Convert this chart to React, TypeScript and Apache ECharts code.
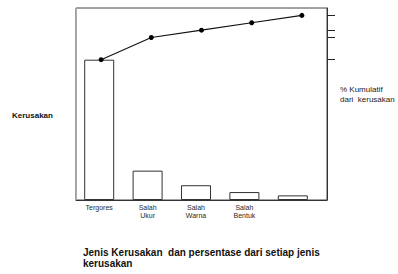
import React, { useEffect, useRef } from "react";
import * as echarts from "echarts";

const categories = ["Tergores", "Salah\nUkur", "Salah\nWarna", "Salah\nBentuk", ""];
const damageValues = [76, 15.9, 8.0, 4.3, 2.5];
const cumulativePercent = [76, 88, 92, 96, 100];
const rightTickValues = [76, 88, 92, 100];
const axisMax = 104;

const FONT = "Liberation Sans, Arial, sans-serif";

export default function App() {
  const ref = useRef<HTMLDivElement>(null);
  useEffect(() => {
    if (!ref.current) return;
    const chart = echarts.init(ref.current, null, { renderer: "svg" });
    chart.setOption({
      animation: false,
      backgroundColor: "#fff",
      grid: [
        { left: 76, top: 8, right: 71, bottom: 74, show: true, borderColor: "#444", borderWidth: 1, backgroundColor: "transparent" },
        { left: 75, top: 8, width: 242, bottom: 74 },
      ],
      xAxis: [
        {
          type: "category",
          gridIndex: 0,
          data: categories,
          axisLine: { show: true, lineStyle: { color: "#333", width: 1 } },
          axisTick: { show: false },
          axisLabel: { show: false },
          splitLine: { show: false },
        },
        {
          type: "category",
          gridIndex: 1,
          data: categories,
          axisLine: { show: false },
          axisTick: { show: false },
          axisLabel: {
            show: true,
            interval: 0,
            margin: 4,
            fontSize: 7,
            lineHeight: 7.5,
            color: "#2a2a2a",
            fontFamily: FONT,
          },
          splitLine: { show: false },
        },
      ],
      yAxis: [
        {
          type: "value",
          gridIndex: 0,
          min: 0,
          max: axisMax,
          position: "left",
          axisLine: { show: true, lineStyle: { color: "#aaa", width: 1 } },
          axisTick: { show: false },
          axisLabel: { show: false },
          splitLine: { show: false },
        },
        {
          type: "value",
          gridIndex: 0,
          min: 0,
          max: axisMax,
          position: "right",
          axisLine: { show: true, lineStyle: { color: "#333", width: 1 } },
          axisTick: {
            show: true,
            inside: false,
            length: 8,
            customValues: rightTickValues,
            lineStyle: { color: "#222", width: 1 },
          },
          axisLabel: { show: false },
          splitLine: { show: false },
        },
        {
          type: "value",
          gridIndex: 1,
          min: 0,
          max: axisMax,
          show: false,
          splitLine: { show: false },
        },
      ],
      series: [
        {
          type: "bar",
          xAxisIndex: 1,
          yAxisIndex: 2,
          data: damageValues,
          barWidth: 30,
          itemStyle: { color: "#fff", borderColor: "#333", borderWidth: 1 },
          silent: true,
        },
        {
          type: "line",
          xAxisIndex: 0,
          yAxisIndex: 1,
          data: cumulativePercent,
          symbol: "circle",
          symbolSize: 5,
          lineStyle: { color: "#111", width: 1.1 },
          itemStyle: { color: "#000" },
          z: 5,
        },
      ],
      graphic: [
        {
          type: "text",
          left: 12,
          top: 111,
          style: { text: "Kerusakan", fill: "#111", font: `bold 8px ${FONT}` },
        },
        {
          type: "text",
          left: 340,
          top: 85,
          style: {
            text: "% Kumulatif\ndari  kerusakan",
            fill: "#222",
            font: `8px ${FONT}`,
            lineHeight: 9.5,
          },
        },
        {
          type: "text",
          left: 83,
          top: 247,
          style: {
            text: "Jenis Kerusakan  dan persentase dari setiap jenis\nkerusakan",
            fill: "#111",
            font: `bold 10px ${FONT}`,
            lineHeight: 11,
          },
        },
      ],
    });
    return () => chart.dispose();
  }, []);
  return <div ref={ref} style={{ position: "absolute", left: 0, top: 0, width: 398, height: 274 }} />;
}
